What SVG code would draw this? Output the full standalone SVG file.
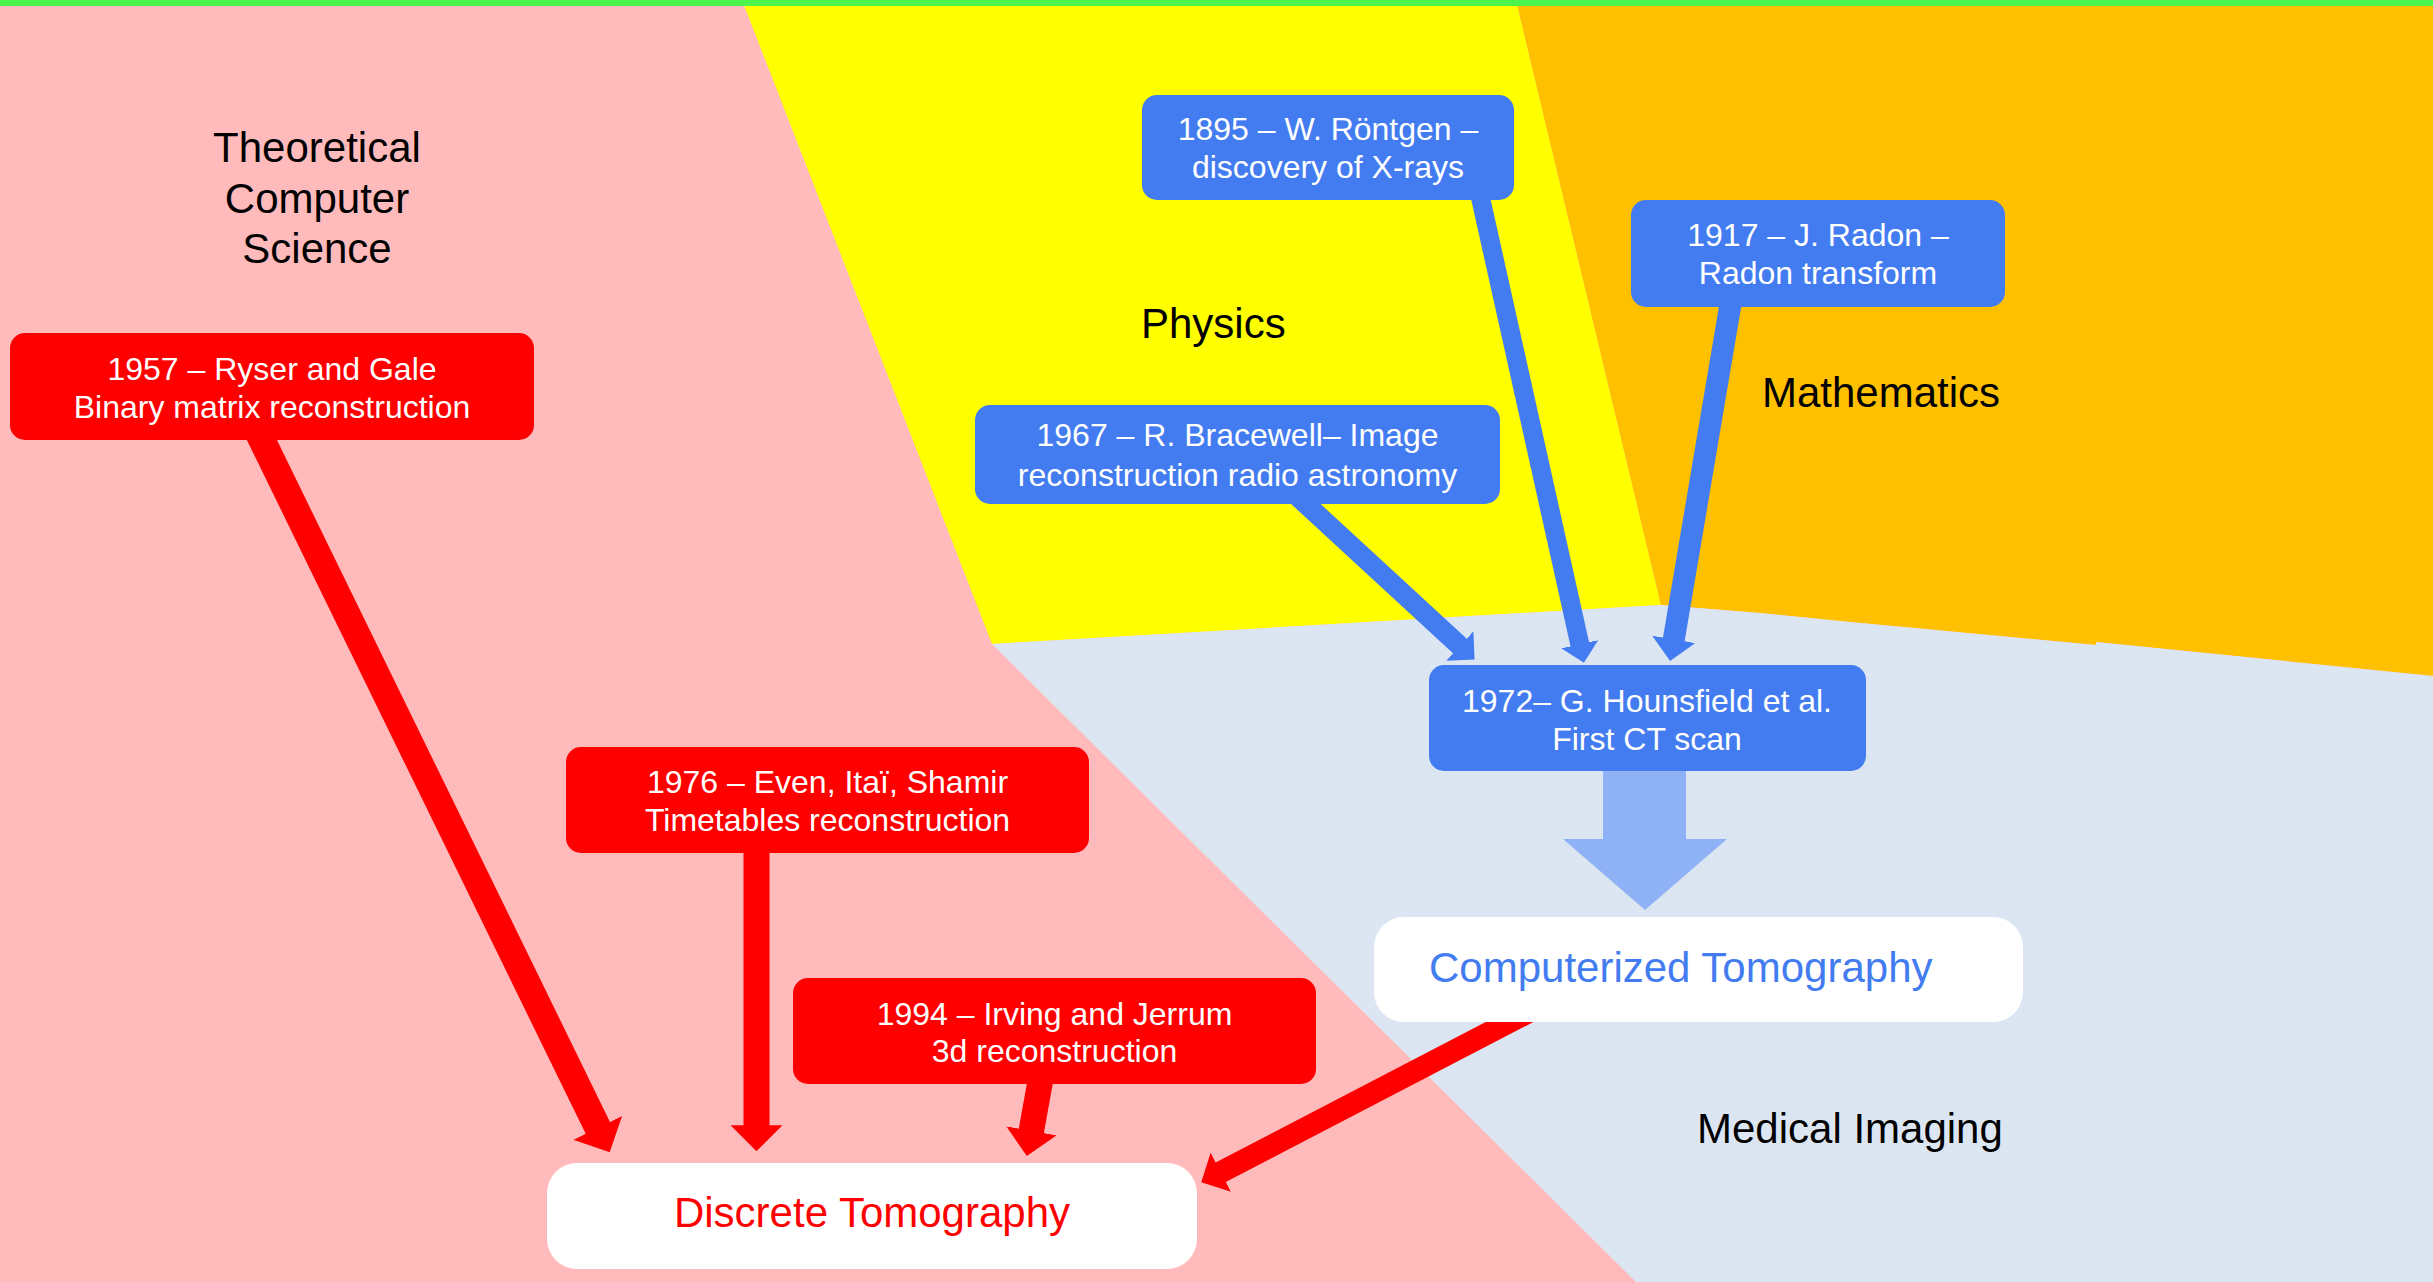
<svg xmlns="http://www.w3.org/2000/svg" width="2433" height="1282" viewBox="0 0 2433 1282">
  <style>
    .area { font-family: "Liberation Sans", Arial, sans-serif; font-size: 42px; fill: #000000; }
    .lbl { font-family: "Liberation Sans", Arial, sans-serif; font-size: 32px; fill: #FFFFFF; text-anchor: middle; }
    .big { font-family: "Liberation Sans", Arial, sans-serif; font-size: 42px; }
    .redbox { fill: #FF0000; }
    .bluebox { fill: #437CF0; }
    .whitebox { fill: #FFFFFF; }
    .red { stroke: #FF0000; fill: none; stroke-linecap: butt; marker-end: url(#headRed); }
    .blue { stroke: #437CF0; fill: none; stroke-linecap: butt; marker-end: url(#headBlue); }
  </style>
  <defs>
    <marker id="headRed" viewBox="0 -1 1 2" refX="0.03" refY="0" markerWidth="1" markerHeight="2" markerUnits="strokeWidth" orient="auto">
      <path d="M0,-1 L1,0 L0,1 Z" fill="#FF0000"/>
    </marker>
    <marker id="headBlue" viewBox="0 -1 1 2" refX="0.03" refY="0" markerWidth="1" markerHeight="2" markerUnits="strokeWidth" orient="auto">
      <path d="M0,-1 L1,0 L0,1 Z" fill="#437CF0"/>
    </marker>
  </defs>

  <!-- subject areas -->
  <g id="areas">
    <rect x="0" y="0" width="2433" height="1282" fill="#FFBBBB"/>
    <polygon points="742,0 1516,0 1661,605 992,644" fill="#FFFF00"/>
    <polygon points="1516,0 2433,0 2433,676 2096,642 2096,645 1850,622 1760,613 1661,605" fill="#FFC000"/>
    <polygon points="992,644 1661,605 1760,613 1850,622 2096,645 2096,642 2433,676 2433,1282 1636,1282" fill="#DCE6F2"/>
    <rect x="0" y="0" width="2433" height="6" fill="#4BF54E"/>
  </g>

  <g id="area-labels">
    <text class="area" text-anchor="middle"><tspan x="317" y="162">Theoretical</tspan><tspan x="317" y="213">Computer</tspan><tspan x="317" y="263">Science</tspan></text>
    <text class="area" x="1141" y="338">Physics</text>
    <text class="area" x="1762" y="407">Mathematics</text>
    <text class="area" x="1697" y="1143">Medical Imaging</text>
  </g>

  <!-- connectors -->
  <g id="connectors">
    <line class="red" x1="257" y1="430" x2="598.2" y2="1128.7" stroke-width="27"/>
    <line class="red" x1="756.5" y1="845" x2="756.5" y2="1126" stroke-width="26"/>
    <line class="red" x1="1041.4" y1="1075" x2="1031.2" y2="1131.6" stroke-width="25.5"/>
    <line class="red" x1="1530.7" y1="1011" x2="1220.2" y2="1172.5" stroke-width="22"/>
    <line class="blue" x1="1478.8" y1="190" x2="1579.9" y2="644.8" stroke-width="19"/>
    <line class="blue" x1="1731.7" y1="297" x2="1673.7" y2="640" stroke-width="22"/>
    <line class="blue" x1="1295" y1="494" x2="1460.3" y2="646.4" stroke-width="20"/>
    <polygon id="ct-arrow" points="1603,765 1686,765 1686,839 1727,839 1645,910 1563,839 1603,839" fill="#8FB2F6"/>
  </g>

  <!-- nodes -->
  <g id="n1957">
    <rect class="redbox" x="10" y="333" width="524" height="107" rx="15"/>
    <text class="lbl"><tspan x="272" y="380">1957 – Ryser and Gale</tspan><tspan x="272" y="418">Binary matrix reconstruction</tspan></text>
  </g>
  <g id="n1976">
    <rect class="redbox" x="566" y="747" width="523" height="106" rx="15"/>
    <text class="lbl"><tspan x="827.5" y="793">1976 – Even, Itaï, Shamir</tspan><tspan x="827.5" y="831">Timetables reconstruction</tspan></text>
  </g>
  <g id="n1994">
    <rect class="redbox" x="793" y="978" width="523" height="106" rx="15"/>
    <text class="lbl"><tspan x="1054.5" y="1025">1994 – Irving and Jerrum</tspan><tspan x="1054.5" y="1062">3d reconstruction</tspan></text>
  </g>
  <g id="n1895">
    <rect class="bluebox" x="1142" y="95" width="372" height="105" rx="15"/>
    <text class="lbl"><tspan x="1328" y="140">1895 – W. Röntgen –</tspan><tspan x="1328" y="178">discovery of X-rays</tspan></text>
  </g>
  <g id="n1917">
    <rect class="bluebox" x="1631" y="200" width="374" height="107" rx="15"/>
    <text class="lbl"><tspan x="1818" y="245.5">1917 – J. Radon –</tspan><tspan x="1818" y="284">Radon transform</tspan></text>
  </g>
  <g id="n1967">
    <rect class="bluebox" x="975" y="405" width="525" height="99" rx="15"/>
    <text class="lbl"><tspan x="1237.5" y="446">1967 – R. Bracewell– Image</tspan><tspan x="1237.5" y="485.5">reconstruction radio astronomy</tspan></text>
  </g>
  <g id="n1972">
    <rect class="bluebox" x="1429" y="665" width="437" height="106" rx="15"/>
    <text class="lbl"><tspan x="1647" y="712">1972– G. Hounsfield et al.</tspan><tspan x="1647" y="750">First CT scan</tspan></text>
  </g>
  <g id="discrete">
    <rect class="whitebox" x="547" y="1163" width="650" height="106" rx="30"/>
    <text class="big" x="872" y="1227" text-anchor="middle" fill="#FF0000">Discrete Tomography</text>
  </g>
  <g id="computerized">
    <rect class="whitebox" x="1374" y="917" width="649" height="105" rx="30"/>
    <text class="big" x="1429" y="982" fill="#437CF0">Computerized Tomography</text>
  </g>
</svg>
